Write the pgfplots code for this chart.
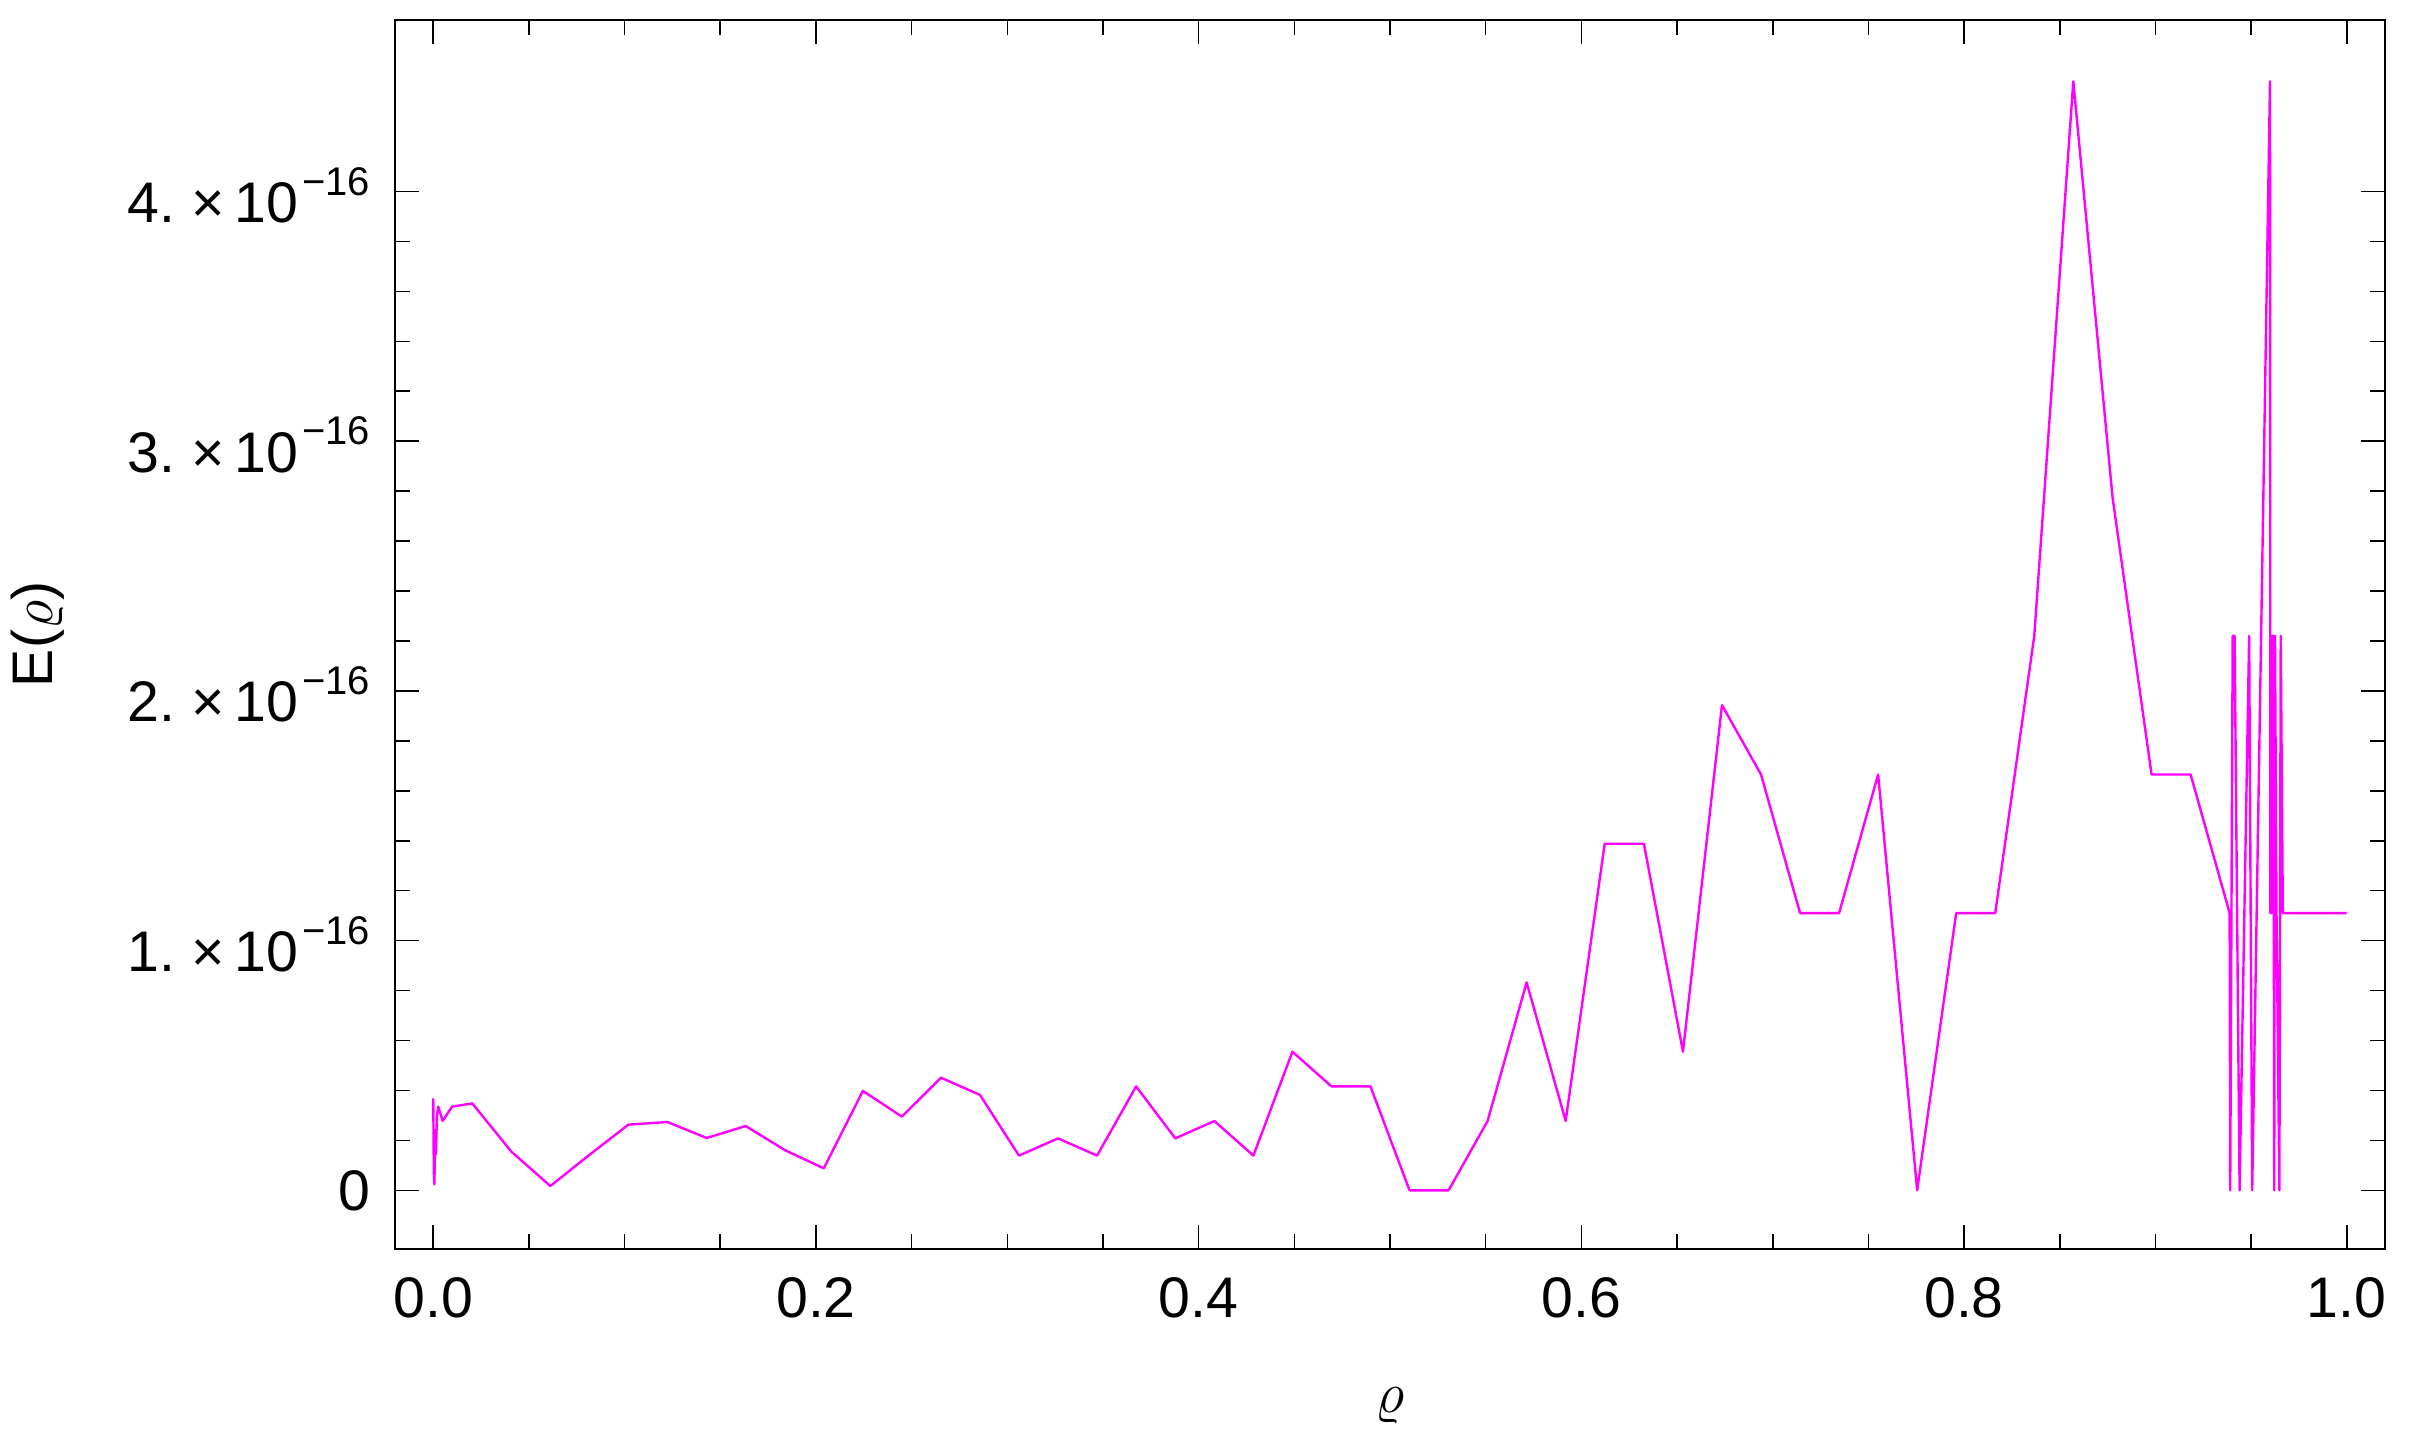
\documentclass[border=0pt]{standalone}
\usepackage{fontspec}
\setmainfont{Liberation Sans}
\usepackage{pgfplots}
\pgfplotsset{compat=1.18}
\definecolor{mmag}{RGB}{255,0,255}

% Mathematica-style tick label "n. x 10^-16"
\newcommand{\sci}[1]{\raisebox{-2.6pt}{#1.\hspace{4pt}×\hspace{2.5pt}10\hspace{1pt}\raisebox{6.8pt}{\fontsize{10}{11}\selectfont −16}}}

\begin{document}
\begin{tikzpicture}
\path[use as bounding box] (-98.75pt,-50.75pt) rectangle (503.5pt,312.25pt);
\begin{axis}[
  at={(0,0)}, anchor=south west,
  scale only axis, width=497.5pt, height=307.25pt,
  xmin=-0.02, xmax=1.02, ymin=-0.235, ymax=4.687,
  xtick={0,0.2,0.4,0.6,0.8,1},
  xticklabels={0.0,0.2,0.4,0.6,0.8,1.0},
  ytick={0,1,2,3,4},
  yticklabels={0,\sci{1},\sci{2},\sci{3},\sci{4}},
  minor x tick num=3, minor y tick num=4,
  tick align=inside, major tick length=6pt, minor tick length=3.75pt,
  axis line style={line width=0.4pt},
  tick style={line width=0.4pt, black},
  every tick label/.append style={font=\fontsize{14.3}{17}\selectfont},
  xticklabel style={anchor=base, inner sep=0pt, yshift=-17.25pt},
  yticklabel style={anchor=base east, inner sep=0pt, xshift=-6pt, yshift=-5.1pt},
  label style={font=\fontsize{14.3}{17}\selectfont},
  xlabel={$\varrho$}, ylabel={E($\varrho$)},
  xlabel style={at={(rel axis cs:0.5,-0.1277)}, anchor=center},
  ylabel style={at={(rel axis cs:-0.1794,0.5)}, anchor=center},
]
% E(rho) in units of 1e-16
\addplot[mmag, line width=0.6pt, line join=round] coordinates {
(0.0000,0.368) (0.0003,0.070) (0.0006,0.024) (0.0010,0.240) (0.0014,0.144)
(0.0019,0.294) (0.0026,0.335) (0.0049,0.278) (0.0098,0.335) (0.0204,0.348)
(0.0408,0.155) (0.0612,0.017) (0.0816,0.142) (0.1020,0.263) (0.1224,0.2735)
(0.1429,0.2095) (0.1633,0.2575) (0.1837,0.161) (0.2041,0.088) (0.2245,0.398)
(0.2449,0.295) (0.2653,0.451) (0.2857,0.382) (0.3061,0.139) (0.3265,0.208)
(0.3469,0.139) (0.3673,0.416) (0.3878,0.208) (0.4082,0.2776) (0.4286,0.139)
(0.4490,0.555) (0.4694,0.416) (0.4898,0.416) (0.5102,0) (0.5306,0)
(0.5510,0.2776) (0.5714,0.8327) (0.5918,0.2776) (0.6122,1.3878) (0.6327,1.3878)
(0.6531,0.5551) (0.6735,1.9429) (0.6939,1.6653) (0.7143,1.1102) (0.7347,1.1102)
(0.7551,1.6653) (0.7755,0) (0.7959,1.1102) (0.8163,1.1102) (0.8367,2.2204)
(0.8571,4.4409) (0.8776,2.7756) (0.8980,1.6653) (0.9184,1.6653) (0.9388,1.1102)
(0.9391,0) (0.9404,2.2204) (0.9414,2.2204) (0.9440,0) (0.9490,2.2204)
(0.9506,0) (0.9599,4.4409) (0.9601,1.1102) (0.9604,2.2204) (0.9607,1.1102)
(0.9610,2.2204) (0.9614,1.1102) (0.9617,2.2204) (0.9621,0) (0.9625,2.2204)
(0.9633,1.1102) (0.9648,0) (0.9655,2.2204) (0.9666,1.1102) (1.0000,1.1102)
};
\end{axis}
\end{tikzpicture}
\end{document}
